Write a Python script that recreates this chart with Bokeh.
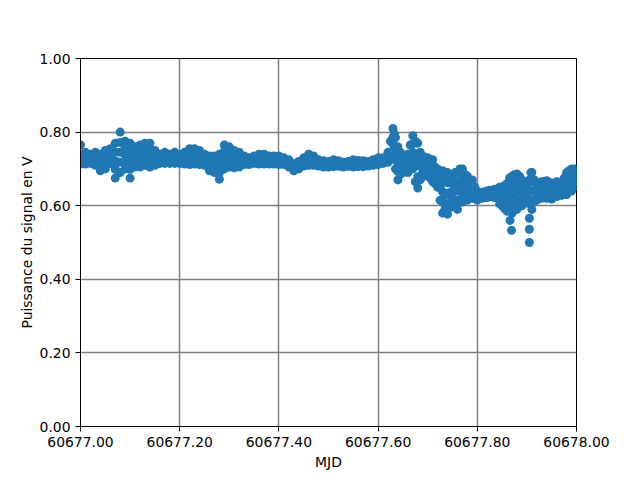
from bokeh.plotting import figure
from bokeh.models import Range1d, FixedTicker, PrintfTickFormatter
from bokeh.embed import file_html
from bokeh.resources import INLINE

# ---- data ----
mjd = [60677.00, 60677.01, 60677.02, 60677.03, 60677.04, 60677.05, 60677.06, 60677.07, 60677.08, 60677.09,
       60677.10, 60677.11, 60677.12, 60677.13, 60677.14, 60677.15, 60677.16, 60677.17, 60677.18, 60677.19,
       60677.20, 60677.21, 60677.22, 60677.23, 60677.24, 60677.25, 60677.26, 60677.27, 60677.28, 60677.29,
       60677.30, 60677.31, 60677.32, 60677.33, 60677.34, 60677.35, 60677.36, 60677.37, 60677.38, 60677.39,
       60677.40, 60677.41, 60677.42, 60677.43, 60677.44, 60677.45, 60677.46, 60677.47, 60677.48, 60677.49,
       60677.50, 60677.51, 60677.52, 60677.53, 60677.54, 60677.55, 60677.56, 60677.57, 60677.58, 60677.59,
       60677.60, 60677.61, 60677.62, 60677.63, 60677.64, 60677.65, 60677.66, 60677.67, 60677.68, 60677.69,
       60677.70, 60677.71, 60677.72, 60677.73, 60677.74, 60677.75, 60677.76, 60677.77, 60677.78, 60677.79,
       60677.80, 60677.81, 60677.82, 60677.83, 60677.84, 60677.85, 60677.86, 60677.87, 60677.88, 60677.89,
       60677.90, 60677.91, 60677.92, 60677.93, 60677.94, 60677.95, 60677.96, 60677.97, 60677.98, 60677.99,
       60678.00]

v_top = [0.765, 0.745, 0.740, 0.745, 0.740, 0.750, 0.755, 0.770, 0.800, 0.775,
         0.770, 0.760, 0.765, 0.770, 0.770, 0.750, 0.740, 0.745, 0.740, 0.745,
         0.740, 0.745, 0.755, 0.755, 0.750, 0.740, 0.735, 0.735, 0.740, 0.765,
         0.760, 0.750, 0.745, 0.735, 0.730, 0.735, 0.740, 0.740, 0.735, 0.735,
         0.735, 0.730, 0.725, 0.715, 0.720, 0.730, 0.740, 0.735, 0.725, 0.722,
         0.720, 0.725, 0.722, 0.718, 0.720, 0.725, 0.723, 0.722, 0.720, 0.725,
         0.730, 0.730, 0.745, 0.810, 0.760, 0.735, 0.740, 0.790, 0.770, 0.735,
         0.730, 0.725, 0.700, 0.695, 0.690, 0.680, 0.690, 0.700, 0.680, 0.670,
         0.640, 0.635, 0.640, 0.640, 0.645, 0.650, 0.660, 0.680, 0.686, 0.670,
         0.660, 0.690, 0.660, 0.665, 0.668, 0.660, 0.665, 0.660, 0.690, 0.700,
         0.700]

v_upper = [0.740, 0.735, 0.733, 0.736, 0.729, 0.738, 0.745, 0.746, 0.772, 0.756,
           0.746, 0.746, 0.750, 0.755, 0.754, 0.740, 0.734, 0.738, 0.734, 0.738,
           0.734, 0.737, 0.744, 0.744, 0.740, 0.732, 0.725, 0.724, 0.723, 0.749,
           0.746, 0.738, 0.735, 0.729, 0.725, 0.730, 0.733, 0.733, 0.730, 0.730,
           0.729, 0.725, 0.720, 0.710, 0.715, 0.724, 0.732, 0.729, 0.721, 0.718,
           0.716, 0.720, 0.718, 0.715, 0.717, 0.720, 0.719, 0.718, 0.717, 0.721,
           0.725, 0.726, 0.738, 0.786, 0.738, 0.724, 0.728, 0.768, 0.740, 0.721,
           0.718, 0.710, 0.688, 0.666, 0.662, 0.660, 0.665, 0.678, 0.664, 0.658,
           0.634, 0.631, 0.636, 0.636, 0.639, 0.638, 0.641, 0.655, 0.662, 0.653,
           0.648, 0.665, 0.649, 0.654, 0.656, 0.650, 0.655, 0.652, 0.675, 0.685,
           0.689]

v_mid = [0.728, 0.728, 0.727, 0.728, 0.718, 0.725, 0.735, 0.722, 0.745, 0.738,
         0.722, 0.732, 0.735, 0.740, 0.738, 0.730, 0.728, 0.730, 0.728, 0.730,
         0.728, 0.729, 0.733, 0.734, 0.731, 0.725, 0.715, 0.712, 0.706, 0.732,
         0.732, 0.726, 0.725, 0.723, 0.721, 0.725, 0.726, 0.726, 0.724, 0.724,
         0.723, 0.721, 0.715, 0.705, 0.710, 0.719, 0.725, 0.722, 0.716, 0.713,
         0.712, 0.715, 0.714, 0.711, 0.713, 0.715, 0.714, 0.714, 0.714, 0.717,
         0.721, 0.722, 0.731, 0.768, 0.715, 0.712, 0.715, 0.745, 0.709, 0.708,
         0.705, 0.695, 0.675, 0.638, 0.634, 0.640, 0.640, 0.655, 0.648, 0.645,
         0.628, 0.628, 0.631, 0.633, 0.634, 0.625, 0.623, 0.630, 0.638, 0.635,
         0.635, 0.640, 0.638, 0.643, 0.644, 0.639, 0.645, 0.644, 0.660, 0.670,
         0.678]

v_lower = [0.720, 0.720, 0.721, 0.719, 0.706, 0.712, 0.725, 0.699, 0.718, 0.719,
           0.699, 0.719, 0.720, 0.725, 0.721, 0.720, 0.721, 0.722, 0.721, 0.722,
           0.721, 0.721, 0.723, 0.723, 0.721, 0.718, 0.705, 0.701, 0.689, 0.716,
           0.719, 0.715, 0.715, 0.718, 0.716, 0.720, 0.720, 0.720, 0.719, 0.719,
           0.718, 0.716, 0.710, 0.700, 0.705, 0.713, 0.717, 0.716, 0.712, 0.709,
           0.709, 0.711, 0.711, 0.708, 0.710, 0.710, 0.710, 0.710, 0.711, 0.714,
           0.716, 0.719, 0.725, 0.749, 0.693, 0.701, 0.703, 0.723, 0.679, 0.694,
           0.693, 0.680, 0.663, 0.609, 0.605, 0.620, 0.615, 0.633, 0.631, 0.633,
           0.621, 0.624, 0.627, 0.629, 0.628, 0.613, 0.604, 0.605, 0.614, 0.618,
           0.623, 0.615, 0.626, 0.631, 0.632, 0.629, 0.635, 0.636, 0.645, 0.655,
           0.666]

v_bottom = [0.713, 0.713, 0.715, 0.710, 0.695, 0.700, 0.715, 0.675, 0.690, 0.700,
            0.675, 0.705, 0.705, 0.710, 0.705, 0.710, 0.715, 0.715, 0.715, 0.715,
            0.715, 0.713, 0.712, 0.713, 0.712, 0.710, 0.695, 0.690, 0.672, 0.700,
            0.705, 0.703, 0.705, 0.712, 0.712, 0.715, 0.713, 0.713, 0.713, 0.713,
            0.712, 0.712, 0.705, 0.695, 0.700, 0.708, 0.710, 0.710, 0.708, 0.705,
            0.705, 0.706, 0.707, 0.705, 0.707, 0.705, 0.706, 0.706, 0.708, 0.710,
            0.712, 0.715, 0.718, 0.730, 0.670, 0.690, 0.690, 0.700, 0.648, 0.680,
            0.680, 0.665, 0.650, 0.580, 0.577, 0.600, 0.590, 0.610, 0.615, 0.620,
            0.615, 0.620, 0.622, 0.625, 0.622, 0.600, 0.585, 0.580, 0.590, 0.600,
            0.610, 0.590, 0.615, 0.620, 0.620, 0.618, 0.625, 0.628, 0.630, 0.640,
            0.655]

# extra samples in the noisy second part of the day
mjd_b = [60677.625, 60677.635, 60677.645, 60677.655, 60677.665, 60677.675, 60677.685, 60677.695,
         60677.705, 60677.715, 60677.725, 60677.735, 60677.745, 60677.755, 60677.765, 60677.775,
         60677.785, 60677.795, 60677.805, 60677.815, 60677.825, 60677.835, 60677.845, 60677.855,
         60677.865, 60677.875, 60677.885, 60677.895, 60677.905, 60677.915, 60677.925, 60677.935,
         60677.945, 60677.955, 60677.965, 60677.975, 60677.985, 60677.995]
vb_hi = [0.775, 0.785, 0.745, 0.735, 0.765, 0.775, 0.745, 0.728,
         0.725, 0.705, 0.690, 0.680, 0.675, 0.690, 0.700, 0.685,
         0.668, 0.650, 0.636, 0.638, 0.642, 0.645, 0.650, 0.655,
         0.675, 0.684, 0.680, 0.665, 0.670, 0.670, 0.662, 0.666,
         0.664, 0.662, 0.662, 0.675, 0.695, 0.700]
vb_mid = [0.745, 0.735, 0.715, 0.712, 0.725, 0.725, 0.710, 0.705,
          0.700, 0.680, 0.650, 0.628, 0.635, 0.648, 0.660, 0.650,
          0.645, 0.635, 0.628, 0.630, 0.633, 0.633, 0.625, 0.620,
          0.628, 0.640, 0.640, 0.638, 0.640, 0.640, 0.642, 0.645,
          0.642, 0.645, 0.645, 0.655, 0.668, 0.675]
vb_lo = [0.725, 0.700, 0.685, 0.695, 0.700, 0.665, 0.670, 0.685,
         0.675, 0.660, 0.615, 0.590, 0.595, 0.605, 0.615, 0.625,
         0.625, 0.620, 0.620, 0.622, 0.625, 0.622, 0.605, 0.592,
         0.590, 0.595, 0.600, 0.608, 0.605, 0.612, 0.620, 0.625,
         0.622, 0.625, 0.630, 0.632, 0.640, 0.650]

# isolated excursions
mjd_out = [60677.633, 60677.866, 60677.869, 60677.905, 60677.905, 60677.905, 60677.908]
v_out = [0.795, 0.560, 0.533, 0.566, 0.536, 0.500, 0.690]

x_ticks = [60677.0, 60677.2, 60677.4, 60677.6, 60677.8, 60678.0]
y_ticks = [0.0, 0.2, 0.4, 0.6, 0.8, 1.0]

FONT = "DejaVu Sans"
BLUE = "#1f77b4"
MSIZE = 9

p = figure(width=632, height=472, output_backend="svg", toolbar_location=None,
           x_range=Range1d(60677.0, 60678.0), y_range=Range1d(0.0, 1.0),
           min_border_left=80, min_border_right=56, min_border_top=58, min_border_bottom=45,
           background_fill_color="white", border_fill_color="white")

for series in (v_top, v_upper, v_mid, v_lower, v_bottom):
    p.scatter(mjd, series, size=MSIZE, fill_color=BLUE, line_color=BLUE, line_width=0)
for series in (vb_hi, vb_mid, vb_lo):
    p.scatter(mjd_b, series, size=MSIZE, fill_color=BLUE, line_color=BLUE, line_width=0)
p.scatter(mjd_out, v_out, size=MSIZE, fill_color=BLUE, line_color=BLUE, line_width=0)

p.outline_line_color = "black"
p.outline_line_width = 1
p.outline_line_alpha = 1

for ax, ticks in ((p.xaxis[0], x_ticks), (p.yaxis[0], y_ticks)):
    ax.ticker = FixedTicker(ticks=ticks)
    ax.formatter = PrintfTickFormatter(format="%.2f")
    ax.major_tick_in = 0
    ax.major_tick_out = 5
    ax.minor_tick_line_color = None
    ax.major_tick_line_color = "black"
    ax.axis_line_color = "black"
    ax.major_label_text_font = FONT
    ax.major_label_text_font_size = "13.9px"
    ax.major_label_text_color = "black"
    ax.axis_label_text_font = FONT
    ax.axis_label_text_font_size = "13.9px"
    ax.axis_label_text_font_style = "normal"
    ax.axis_label_text_color = "black"

p.xaxis.axis_label = "MJD"
p.yaxis.axis_label = "Puissance du signal en V"
p.xaxis.axis_label_standoff = 4
p.yaxis.axis_label_standoff = 2

p.xgrid.ticker = FixedTicker(ticks=x_ticks)
p.ygrid.ticker = FixedTicker(ticks=y_ticks)
for g in (p.xgrid, p.ygrid):
    g.grid_line_color = "#808080"
    g.grid_line_width = 1.5
    g.grid_line_alpha = 1

open("out.html", "w").write(file_html(p, INLINE))
